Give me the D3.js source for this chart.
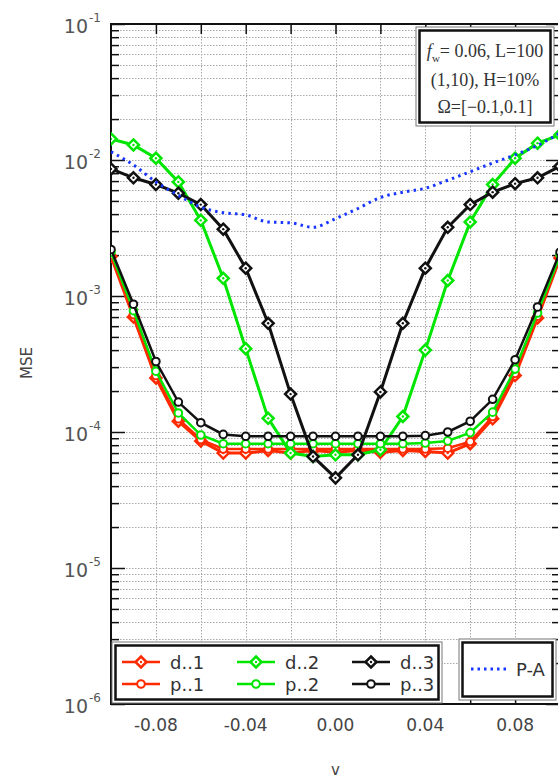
<!DOCTYPE html>
<html>
<head>
<meta charset="utf-8">
<script src="https://cdn.jsdelivr.net/npm/d3@7"></script>
<style>
  body { margin: 0; background: #fff; }
  svg { display: block; font-family: "DejaVu Sans", sans-serif; }
</style>
</head>
<body>
<svg id="chart"></svg>
<script>
const width = 558;
const height = 784;

// values
const nu = [-0.1, -0.09, -0.08, -0.07, -0.06, -0.05, -0.04, -0.03, -0.02, -0.01, 0,
            0.01, 0.02, 0.03, 0.04, 0.05, 0.06, 0.07, 0.08, 0.09, 0.1];
const d1 = [1.95e-3, 7.0e-4, 2.5e-4, 1.2e-4, 8.6e-5, 7.0e-5, 7.0e-5, 7.3e-5, 7.0e-5, 7.3e-5, 7.1e-5,
            7.3e-5, 7.1e-5, 7.3e-5, 7.2e-5, 7.0e-5, 8.2e-5, 1.25e-4, 2.6e-4, 6.9e-4, 1.9e-3];
const p1 = [2.0e-3, 7.3e-4, 2.6e-4, 1.25e-4, 8.8e-5, 7.5e-5, 7.5e-5, 7.5e-5, 7.5e-5, 7.5e-5, 7.5e-5,
            7.5e-5, 7.5e-5, 7.5e-5, 7.5e-5, 7.6e-5, 8.5e-5, 1.3e-4, 2.7e-4, 7.1e-4, 1.95e-3];
const d2 = [1.43e-2, 1.29e-2, 1.03e-2, 6.9e-3, 3.6e-3, 1.35e-3, 4.1e-4, 1.26e-4, 7.0e-5, 6.6e-5, 6.8e-5,
            6.8e-5, 7.4e-5, 1.3e-4, 4.0e-4, 1.3e-3, 3.5e-3, 6.6e-3, 1.03e-2, 1.33e-2, 1.53e-2];
const p2 = [2.1e-3, 7.8e-4, 2.8e-4, 1.38e-4, 9.5e-5, 8.2e-5, 8.2e-5, 8.2e-5, 8.2e-5, 8.2e-5, 8.2e-5,
            8.2e-5, 8.2e-5, 8.2e-5, 8.3e-5, 8.6e-5, 9.9e-5, 1.4e-4, 2.9e-4, 7.5e-4, 2.0e-3];
const d3s = [8.6e-3, 7.4e-3, 6.6e-3, 5.7e-3, 4.7e-3, 3.1e-3, 1.6e-3, 6.3e-4, 1.9e-4, 6.6e-5, 4.6e-5,
             6.8e-5, 1.97e-4, 6.3e-4, 1.6e-3, 3.2e-3, 4.7e-3, 5.8e-3, 6.7e-3, 7.4e-3, 9.0e-3];
const p3 = [2.2e-3, 8.7e-4, 3.3e-4, 1.66e-4, 1.17e-4, 9.6e-5, 9.3e-5, 9.3e-5, 9.3e-5, 9.3e-5, 9.3e-5,
            9.3e-5, 9.3e-5, 9.3e-5, 9.4e-5, 1.0e-4, 1.2e-4, 1.74e-4, 3.4e-4, 8.3e-4, 2.1e-3];
const pa = [1.15e-2, 9.2e-3, 6.9e-3, 5.5e-3, 4.5e-3, 4.1e-3, 3.95e-3, 3.5e-3, 3.45e-3, 3.2e-3, 3.7e-3,
            4.4e-3, 5.3e-3, 5.8e-3, 6.2e-3, 7.1e-3, 8.2e-3, 9.5e-3, 1.09e-2, 1.28e-2, 1.58e-2];

const xTicks = [-0.08, -0.04, 0, 0.04, 0.08];
const xTickLabels = ["-0.08", "-0.04", "0.00", "0.04", "0.08"];
const xGrid = [-0.08, -0.06, -0.04, -0.02, 0, 0.02, 0.04, 0.06, 0.08];
const yDecades = [-6, -5, -4, -3, -2, -1];

const red = "#ff2a00", green = "#00e600", black = "#111111", blue = "#1836ff";
const series = [
  { name: "d..1", values: d1, color: red, marker: "diamond" },
  { name: "p..1", values: p1, color: red, marker: "circle" },
  { name: "d..2", values: d2, color: green, marker: "diamond" },
  { name: "p..2", values: p2, color: green, marker: "circle" },
  { name: "d..3", values: d3s, color: black, marker: "diamond" },
  { name: "p..3", values: p3, color: black, marker: "circle" }
];

const pLeft = 111, pRight = 560, pTop = 24, pBottom = 704;

const svg = d3.select("#chart").attr("width", width).attr("height", height);

const x = d3.scaleLinear().domain([-0.1, 0.1]).range([pLeft, pRight]);
const y = d3.scaleLog().domain([1e-6, 1e-1]).range([pBottom, pTop]);

svg.append("clipPath").attr("id", "clip")
   .append("rect").attr("x", pLeft).attr("y", pTop)
   .attr("width", pRight - pLeft).attr("height", pBottom - pTop);

// grid
const minorVals = [];
for (let e = -6; e < -1; e++) {
  for (let k = 1; k < 10; k++) minorVals.push(k * Math.pow(10, e));
}
const majorVals = yDecades.map(e => Math.pow(10, e));
const minorOnly = minorVals.filter(v => !majorVals.some(m => Math.abs(v - m) / m < 1e-9));

const grid = svg.append("g").attr("stroke", "#a8a8a8").attr("stroke-width", 1)
                .attr("stroke-dasharray", "1.5,1.5");
grid.selectAll(".hg").data(minorVals).enter().append("line")
    .attr("x1", pLeft).attr("x2", pRight)
    .attr("y1", d => Math.round(y(d)) + 0.5).attr("y2", d => Math.round(y(d)) + 0.5);
grid.selectAll(".vg").data(xGrid).enter().append("line")
    .attr("y1", pTop).attr("y2", pBottom)
    .attr("x1", d => Math.round(x(d)) + 0.5).attr("x2", d => Math.round(x(d)) + 0.5);

// axes ticks (inward, both sides)
function tickGroup(axis, tx, ty) {
  svg.append("g").attr("transform", `translate(${tx},${ty})`).call(axis)
     .call(g => g.select(".domain").remove())
     .selectAll("line").attr("stroke", "#111").attr("stroke-width", 1.5);
}
tickGroup(d3.axisLeft(y).tickValues(majorVals).tickSize(-14).tickFormat(""), pLeft, 0);
tickGroup(d3.axisLeft(y).tickValues(minorOnly).tickSize(-8).tickFormat(""), pLeft, 0);
tickGroup(d3.axisRight(y).tickValues(majorVals).tickSize(-14).tickFormat(""), pRight, 0);
tickGroup(d3.axisRight(y).tickValues(minorOnly).tickSize(-8).tickFormat(""), pRight, 0);
tickGroup(d3.axisTop(x).tickValues(xGrid).tickSize(-10).tickFormat(""), 0, pTop);
tickGroup(d3.axisBottom(x).tickValues(xGrid).tickSize(-10).tickFormat(""), 0, pBottom);

// frame
svg.append("rect").attr("x", pLeft).attr("y", pTop)
   .attr("width", pRight - pLeft).attr("height", pBottom - pTop)
   .attr("fill", "none").attr("stroke", "#111").attr("stroke-width", 2);

// y tick labels 10^n
const yl = svg.append("g").attr("fill", "#555");
yDecades.forEach(e => {
  yl.append("text").attr("x", 88).attr("y", y(Math.pow(10, e)) + 9)
    .attr("text-anchor", "end").attr("font-size", 19).text("10");
  yl.append("text").attr("x", 89).attr("y", y(Math.pow(10, e)) - 2)
    .attr("font-size", 12).text(String(e));
});

// x tick labels
svg.append("g").selectAll("text").data(xTicks).enter().append("text")
   .attr("x", d => x(d)).attr("y", 731).attr("text-anchor", "middle")
   .attr("font-size", 17).attr("fill", "#444")
   .text((d, i) => xTickLabels[i]);

// axis titles
svg.append("text").attr("transform", "translate(32,363) rotate(-90)")
   .attr("text-anchor", "middle").attr("font-size", 15).attr("fill", "#444").text("MSE");
svg.append("text").attr("x", x(0)).attr("y", 775).attr("text-anchor", "middle")
   .attr("font-size", 15).attr("fill", "#444").text("v");

// series
const plot = svg.append("g").attr("clip-path", "url(#clip)");
const line = d3.line().x((d, i) => x(nu[i])).y(d => y(d));

function drawMarker(g, type, color, cx, cy) {
  if (type === "diamond") {
    const s = 5.5;
    g.append("path")
     .attr("d", `M${cx},${cy - s}L${cx + s},${cy}L${cx},${cy + s}L${cx - s},${cy}Z`)
     .attr("fill", "#fff").attr("stroke", color).attr("stroke-width", 2.5);
    g.append("circle").attr("cx", cx).attr("cy", cy).attr("r", 1.2).attr("fill", color);
  } else {
    g.append("circle").attr("cx", cx).attr("cy", cy).attr("r", 3.8)
     .attr("fill", "#fff").attr("stroke", color).attr("stroke-width", 2);
  }
}

series.forEach(s => {
  const g = plot.append("g");
  g.append("path").datum(s.values).attr("d", line)
   .attr("fill", "none").attr("stroke", s.color)
   .attr("stroke-width", s.marker === "diamond" ? 3 : 2.5);
  s.values.forEach((v, i) => drawMarker(g, s.marker, s.color, x(nu[i]), y(v)));
});

plot.append("path").datum(pa)
    .attr("d", d3.line().curve(d3.curveMonotoneX).x((d, i) => x(nu[i])).y(d => y(d)))
    .attr("fill", "none").attr("stroke", blue).attr("stroke-width", 3)
    .attr("stroke-dasharray", "2.5,4.2");

// double-framed boxes
function box(x0, y0, w, h) {
  svg.append("rect").attr("x", x0).attr("y", y0).attr("width", w).attr("height", h)
     .attr("fill", "#fff").attr("stroke", "#777").attr("stroke-width", 1);
  svg.append("rect").attr("x", x0 + 3.5).attr("y", y0 + 3.5).attr("width", w - 7).attr("height", h - 7)
     .attr("fill", "#fff").attr("stroke", "#111").attr("stroke-width", 2.5);
}

// annotation
box(416, 27, 138, 99);
const ann = svg.append("g").attr("font-family", "'Liberation Serif', serif")
               .attr("font-size", 18).attr("fill", "#333").attr("text-anchor", "middle");
const t1 = ann.append("text").attr("x", 485).attr("y", 57);
t1.append("tspan").attr("font-style", "italic").text("f");
t1.append("tspan").attr("font-size", 11).attr("dy", 5).text("w");
t1.append("tspan").attr("dy", -5).text("= 0.06, L=100");
ann.append("text").attr("x", 485).attr("y", 86).text("(1,10), H=10%");
ann.append("text").attr("x", 485).attr("y", 113).text("Ω=[−0.1,0.1]");

// legend
box(112, 642, 330, 61);
const legCols = [122, 237, 352];
const legRows = [662, 684];
const lg = svg.append("g");
series.forEach((s, i) => {
  const cx = legCols[Math.floor(i / 2)];
  const cy = legRows[i % 2];
  lg.append("line").attr("x1", cx).attr("x2", cx + 38).attr("y1", cy).attr("y2", cy)
    .attr("stroke", s.color).attr("stroke-width", 2.5);
  drawMarker(lg, s.marker, s.color, cx + 19, cy);
  lg.append("text").attr("x", cx + 48).attr("y", cy + 6.5)
    .attr("font-size", 18).attr("fill", "#333").text(s.name);
});

box(459, 639, 97, 61);
svg.append("line").attr("x1", 471).attr("x2", 506).attr("y1", 669).attr("y2", 669)
   .attr("stroke", blue).attr("stroke-width", 3).attr("stroke-dasharray", "2.5,4");
svg.append("text").attr("x", 516).attr("y", 676).attr("font-size", 18).attr("fill", "#333").text("P-A");
</script>
</body>
</html>
